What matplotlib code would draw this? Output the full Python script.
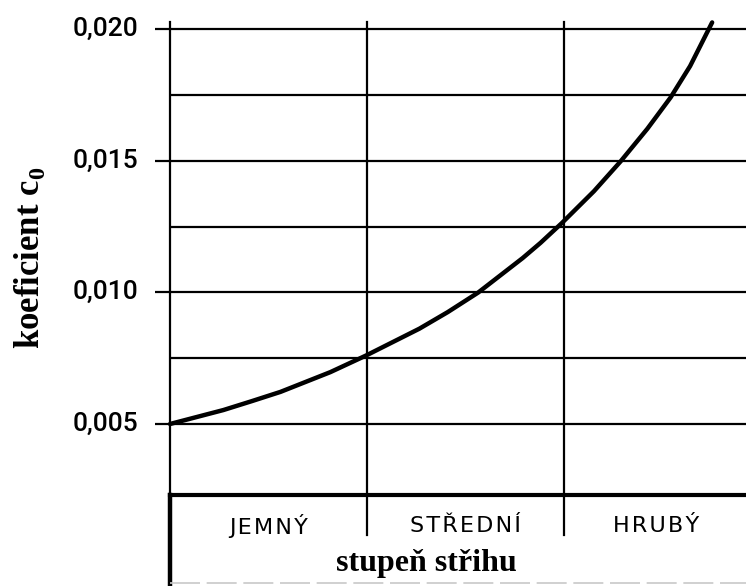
import matplotlib.pyplot as plt

plt.rcParams['mathtext.fontset'] = 'custom'
plt.rcParams['mathtext.rm'] = 'Liberation Serif'
plt.rcParams['mathtext.bf'] = 'Liberation Serif:bold'

# odečtené body křivky c0 (x: 0..3 = JEMNÝ / STŘEDNÍ / HRUBÝ)
x_pts = [0.0, 0.271, 0.416, 0.561, 0.814, 0.995, 1.266, 1.41, 1.564, 1.79,
         1.881, 1.989, 2.152, 2.287, 2.423, 2.541, 2.64, 2.752]
c0_pts = [0.0050, 0.00553, 0.00587, 0.00622, 0.00697, 0.0076, 0.00862, 0.00925,
          0.00999, 0.0113, 0.01188, 0.01263, 0.01384, 0.01497, 0.01621, 0.0174,
          0.01859, 0.02025]

major_ticks = [0.005, 0.010, 0.015, 0.020]
tick_labels = ['0,005', '0,010', '0,015', '0,020']
minor_lines = [0.0075, 0.0125, 0.0175]
categories = ['JEMNÝ', 'STŘEDNÍ', 'HRUBÝ']

# měřítko: 197 px na stupeň, 26333 px na jednotku c0
x0_px, sx = 170, 197
y0_px, sy = 424, 26333
W, H = 746, 586

fig = plt.figure(figsize=(W / 100, H / 100), dpi=100)
ax = fig.add_axes([0, 0, 1, 1])
ax.set_xlim(-x0_px / sx, (W - x0_px) / sx)
ax.set_ylim(0.005 - (H - y0_px) / sy, 0.005 + y0_px / sy)
ax.axis('off')

top = 0.005 + (y0_px - 22) / sy
box = 0.005 - (495 - y0_px) / sy
sep_end = 0.005 - (535 - y0_px) / sy
bottom = 0.005 - (H - y0_px) / sy
tick_x = (155 - x0_px) / sx

lw = 1.6
# vodorovné čáry
for v in major_ticks:
    ax.plot([tick_x, 3], [v, v], color='black', lw=lw, solid_capstyle='butt')
for v in minor_lines:
    ax.plot([0, 3], [v, v], color='black', lw=lw, solid_capstyle='butt')
# svislé čáry
ax.plot([0, 0], [box, top], color='black', lw=lw)
ax.plot([0, 0], [bottom, box], color='black', lw=3.2)
for xv in [1, 2]:
    ax.plot([xv, xv], [sep_end, top], color='black', lw=lw)
# tlustá čára nad popisy stupňů
ax.plot([0, 3], [box, box], color='black', lw=3.0)
# spodní okraj
ax.plot([0, 3], [bottom + 3 / sy, bottom + 3 / sy], color='#c8c8c8', lw=1.2,
        dashes=(18, 4))

# křivka
ax.plot(x_pts, c0_pts, color='black', lw=3.2, solid_joinstyle='round',
        solid_capstyle='round')

# popisy osy y
for v, t in zip(major_ticks, tick_labels):
    ax.text((138 - x0_px) / sx, v, t, ha='right', va='center', fontsize=19,
            family='Roboto', fontweight='medium')

cat_y = 0.005 - (526 - y0_px) / sy
for i, c in enumerate(categories):
    xc = i + 0.5 if i < 2 else 2.47
    ax.text(xc, cat_y, '\u200a'.join(c), ha='center', va='center', fontsize=16,
            family='DejaVu Sans')

ax.text((426 - x0_px) / sx, 0.005 - (564 - y0_px) / sy, 'stupeň střihu',
        ha='center', va='center', fontsize=23, fontweight='bold',
        family='Liberation Serif')
ax.text((30 - x0_px) / sx, 0.005 - (258 - y0_px) / sy, r'koeficient c$_\mathbf{0}$',
        ha='center', va='center', rotation=90, fontsize=25, fontweight='bold',
        family='Liberation Serif')

fig.savefig('out.png', dpi=100)
